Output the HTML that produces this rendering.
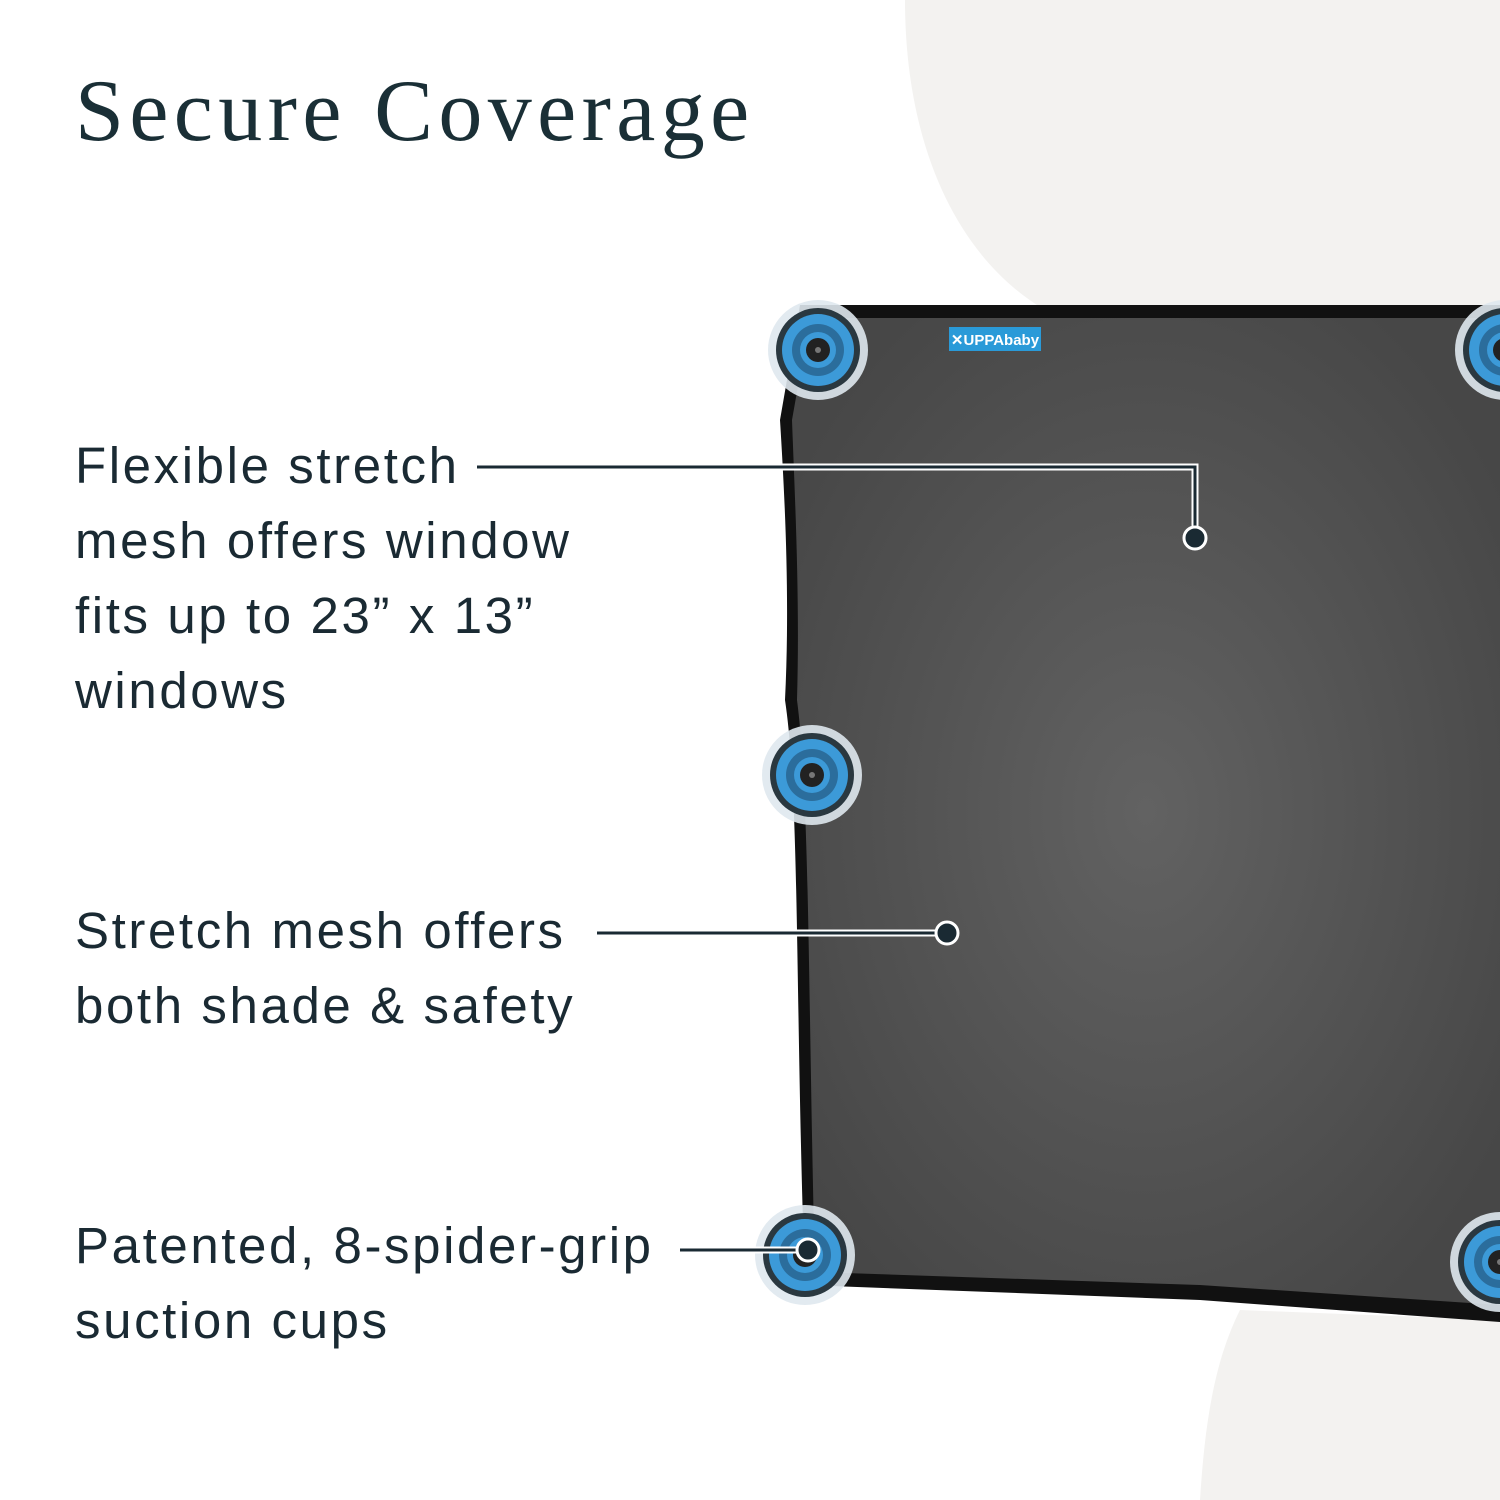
<!DOCTYPE html>
<html><head><style>
html,body{margin:0;padding:0;width:1500px;height:1500px;overflow:hidden;background:#fff;}
.t{position:absolute;left:75px;font-family:"Liberation Sans",sans-serif;color:#1a2a33;font-size:51px;line-height:75px;letter-spacing:2.6px;}
#title{position:absolute;left:75px;top:62px;font-family:"Liberation Serif",serif;font-size:88px;color:#1a2f36;letter-spacing:5.4px;line-height:100px;}
</style></head><body>
<svg width="1500" height="1500" style="position:absolute;left:0;top:0">
<defs>
<radialGradient id="bg" cx="50%" cy="50%" r="60%"><stop offset="0" stop-color="#626262"/><stop offset="1" stop-color="#474747"/></radialGradient>
<g id="cup">
<circle r="50" fill="#dfe8ee" opacity="0.9"/>
<circle r="42" fill="#2a3840"/>
<circle r="36" fill="#3c9ad8"/>
<circle r="26" fill="#2b6d9c"/>
<circle r="18" fill="#3c9ad8"/>
<circle r="12" fill="#222"/>
<circle r="3" fill="#777"/>
</g>
</defs>
<path d="M905 0 C905 150 960 260 1045 310 L1500 310 L1500 0 Z" fill="#f3f2f0"/>
<path d="M1200 1500 C1205 1420 1215 1360 1240 1310 L1500 1320 L1500 1500 Z" fill="#f3f2f0"/>
<path d="M800 305 L1500 305 L1500 1322 L1200 1300 L805 1285 C795 1000 800 800 785 700 C790 600 785 500 780 420 Z" fill="#111"/>
<path d="M810 318 L1500 318 L1500 1305 L1200 1285 L815 1272 C808 1000 810 800 797 700 C800 600 795 500 792 420 Z" fill="url(#bg)"/>
<rect x="949" y="327" width="92" height="24" fill="#2a9ad8"/>
<text x="995" y="345" font-family="Liberation Sans,sans-serif" font-size="15" font-weight="bold" fill="#fff" text-anchor="middle">✕UPPAbaby</text>
<use href="#cup" x="818" y="350"/>
<use href="#cup" x="812" y="775"/>
<use href="#cup" x="805" y="1255"/>
<use href="#cup" x="1505" y="350"/>
<use href="#cup" x="1500" y="1262"/>
<g fill="none" stroke="#fff" stroke-width="7">
<path d="M477 467 H1195 V538"/><path d="M597 933 H947"/><path d="M680 1250 H808"/>
</g>
<g fill="none" stroke="#1a2a33" stroke-width="3">
<path d="M477 467 H1195 V538"/><path d="M597 933 H947"/><path d="M680 1250 H808"/>
</g>
<g fill="#1a2a33" stroke="#fff" stroke-width="3">
<circle cx="1195" cy="538" r="11"/><circle cx="947" cy="933" r="11"/><circle cx="808" cy="1250" r="11"/>
</g>
</svg>
<div id="title">Secure Coverage</div>
<div class="t" style="top:428px">Flexible stretch<br>mesh offers window<br>fits up to 23” x 13”<br>windows</div>
<div class="t" style="top:893px">Stretch mesh offers<br>both shade &amp; safety</div>
<div class="t" style="top:1208px">Patented, 8-spider-grip<br>suction cups</div>
</body></html>
